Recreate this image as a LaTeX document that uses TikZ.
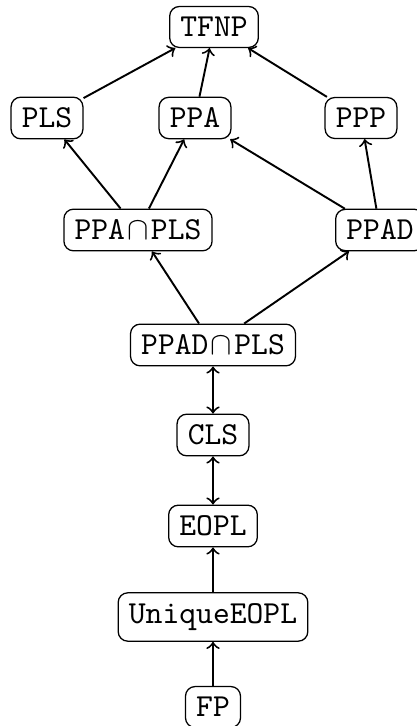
\documentclass[tikz,border=0pt]{standalone}
\newcommand{\capsep}{\kern0.7pt$\cap$\kern0.7pt}
\begin{document}
\begin{tikzpicture}[x=0.312pt,y=-0.312pt,
  cls/.style={draw,rounded corners=3pt,font=\ttfamily,inner sep=3.33pt},
  red/.style={->,semithick},
  eqv/.style={<->,semithick}]
\useasboundingbox (0,0) rectangle (416,726);
\node[cls] (tfnp) at (214,27) {TFNP};
\node[cls] (pls) at (47,118) {PLS};
\node[cls] (ppa) at (195,118) {PPA};
\node[cls] (ppp) at (361,118) {PPP};
\node[cls] (ppapls) at (138,230) {PPA\capsep PLS};
\node[cls] (ppad) at (380,230) {PPAD};
\node[cls] (ppadpls) at (213,345) {PPAD\capsep PLS};
\node[cls] (clsn) at (213,435) {CLS};
\node[cls] (eopl) at (213,526) {EOPL};
\node[cls] (ueopl) at (213,617) {UniqueEOPL};
\node[cls] (fp) at (213,707) {FP};
\draw[red] (pls) -- (tfnp);
\draw[red] (ppa) -- (tfnp);
\draw[red] (ppp) -- (tfnp);
\draw[red] (ppapls) -- (pls);
\draw[red] (ppapls) -- (ppa);
\draw[red] (ppad) -- (ppa);
\draw[red] (ppad) -- (ppp);
\draw[red] (ppadpls) -- (ppapls);
\draw[red] (ppadpls) -- (ppad);
\draw[eqv] (ppadpls) -- (clsn);
\draw[eqv] (clsn) -- (eopl);
\draw[red] (ueopl) -- (eopl);
\draw[red] (fp) -- (ueopl);
\end{tikzpicture}
\end{document}
